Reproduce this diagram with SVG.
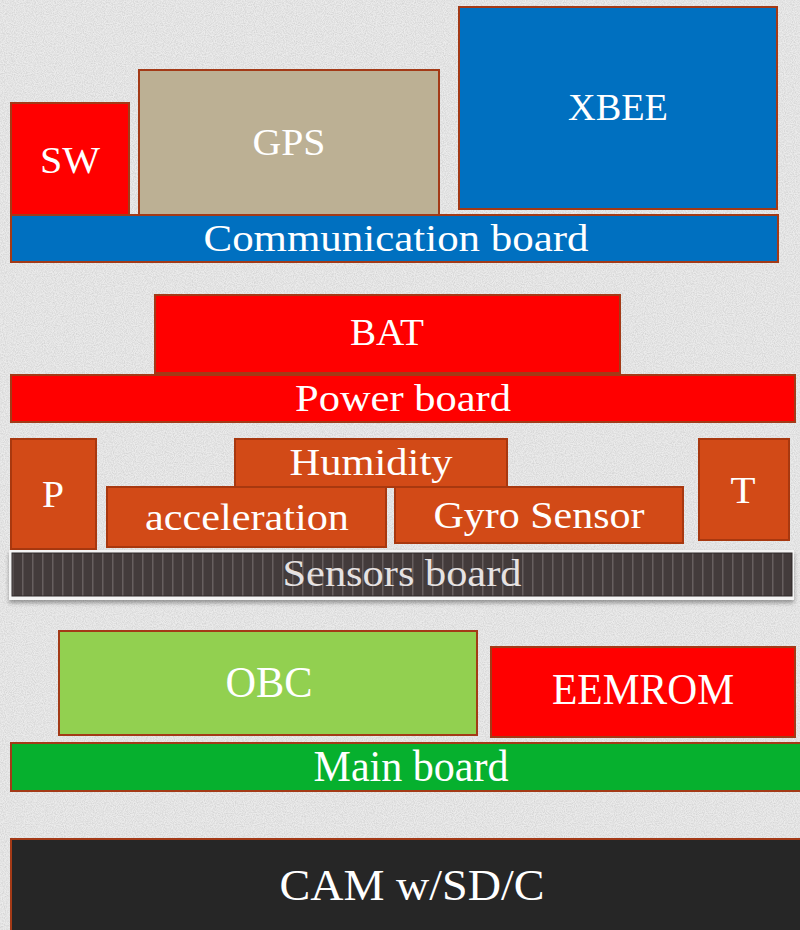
<svg xmlns="http://www.w3.org/2000/svg" width="800" height="930" viewBox="0 0 800 930">
<defs>
<filter id="noise" x="0" y="0" width="100%" height="100%">
<feTurbulence type="fractalNoise" baseFrequency="0.9" numOctaves="2" seed="3" result="t"/>
<feColorMatrix in="t" type="matrix" values="0 0 0 0 0.55  0 0 0 0 0.55  0 0 0 0 0.55  0 0 0 -1.1 0.75" result="n"/>
<feComposite in="n" in2="SourceGraphic" operator="in"/>
</filter>
<pattern id="stripes" x="12" y="0" width="10" height="10" patternUnits="userSpaceOnUse">
<rect width="10" height="10" fill="#433b3b"/>
<rect x="0" width="1.5" height="10" fill="#675f5f"/>
</pattern>
<filter id="shadow" x="-5%" y="-20%" width="110%" height="160%">
<feDropShadow dx="0" dy="3" stdDeviation="2" flood-color="#000" flood-opacity="0.35"/>
</filter>
</defs>
<style>
.bx{stroke:#a33a17;stroke-width:2}
.red{fill:#ff0000}
.blue{fill:#0070c0}
.sen{fill:#d24a17;stroke:#a8380f;stroke-width:2}
text{font-family:"Liberation Serif","Times New Roman",serif;fill:#ffffff;text-anchor:middle;font-size:38px}
.cond{font-size:44px}
</style>
<rect width="800" height="930" fill="#ebebeb"/>
<rect width="800" height="930" fill="#fff" filter="url(#noise)"/>

<g id="sw"><rect class="bx red" x="11" y="103" width="118" height="113"/><text x="70" y="173" textLength="60" lengthAdjust="spacingAndGlyphs">SW</text></g>
<g id="gps"><rect class="bx" fill="#bcb094" x="139" y="70" width="300" height="145"/><text x="289" y="155" textLength="73" lengthAdjust="spacingAndGlyphs">GPS</text></g>
<g id="xbee"><rect class="bx blue" x="459" y="7" width="318" height="202"/><text x="618" y="120" textLength="100" lengthAdjust="spacingAndGlyphs">XBEE</text></g>
<g id="comm"><rect class="bx blue" x="11" y="215" width="767" height="47"/><text x="396" y="251" textLength="385" lengthAdjust="spacingAndGlyphs">Communication board</text></g>

<g id="bat"><rect class="bx red" x="155" y="295" width="465" height="78"/><text x="387" y="345" textLength="74" lengthAdjust="spacingAndGlyphs">BAT</text></g>
<g id="power"><rect class="bx red" x="11" y="375" width="784" height="47"/><text x="403" y="411" textLength="216" lengthAdjust="spacingAndGlyphs">Power board</text></g>

<g id="p"><rect class="sen" x="11" y="439" width="85" height="110"/><text x="53" y="507" textLength="22" lengthAdjust="spacingAndGlyphs">P</text></g>
<g id="humidity"><rect class="sen" x="235" y="439" width="272" height="48"/><text x="371" y="475" textLength="163" lengthAdjust="spacingAndGlyphs">Humidity</text></g>
<g id="acceleration"><rect class="sen" x="107" y="487" width="279" height="60"/><text x="247" y="530" textLength="204" lengthAdjust="spacingAndGlyphs">acceleration</text></g>
<g id="gyro"><rect class="sen" x="395" y="487" width="288" height="56"/><text x="539" y="528" textLength="211" lengthAdjust="spacingAndGlyphs">Gyro Sensor</text></g>
<g id="t"><rect class="sen" x="699" y="439" width="90" height="101"/><text x="743" y="503" textLength="25" lengthAdjust="spacingAndGlyphs">T</text></g>
<g id="sensors"><rect x="9" y="550" width="785" height="50" fill="#f4f4f4" filter="url(#shadow)"/><rect x="12" y="553" width="780" height="43" fill="url(#stripes)" stroke="#2e2828" stroke-width="1"/><text x="402" y="586" style="fill:#e6e2e2" textLength="239" lengthAdjust="spacingAndGlyphs">Sensors board</text></g>

<g id="obc"><rect class="bx" fill="#92d050" x="59" y="631" width="418" height="104"/><text class="cond" x="269" y="697" textLength="87" lengthAdjust="spacingAndGlyphs">OBC</text></g>
<g id="eemrom"><rect class="bx red" x="491" y="647" width="304" height="90"/><text class="cond" x="643" y="704" textLength="182" lengthAdjust="spacingAndGlyphs">EEMROM</text></g>
<g id="main"><rect class="bx" fill="#06b02e" x="11" y="743" width="792" height="48"/><text class="cond" x="411" y="781" textLength="195" lengthAdjust="spacingAndGlyphs">Main board</text></g>

<g id="cam"><rect class="bx" fill="#262626" x="11" y="839" width="792" height="95"/><text class="cond" x="412" y="900" textLength="265" lengthAdjust="spacingAndGlyphs">CAM w/SD/C</text></g>
<g id="connectors"/>
</svg>
